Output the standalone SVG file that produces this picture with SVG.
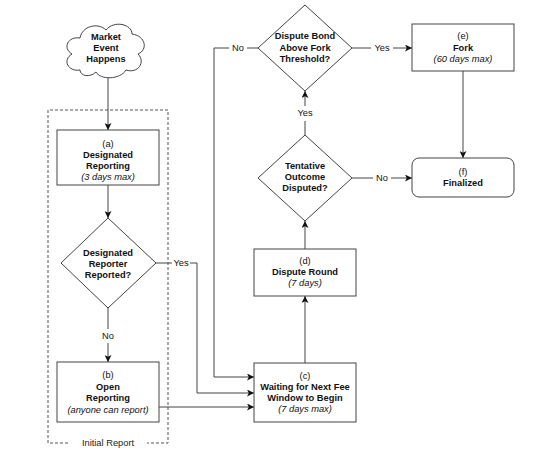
<svg xmlns="http://www.w3.org/2000/svg" width="555" height="467" viewBox="0 0 555 467">
<style>
.shape{fill:#fff;stroke:#444;stroke-width:1}
.ln{fill:none;stroke:#444;stroke-width:1}
.arr{fill:none;stroke:#444;stroke-width:1;marker-end:url(#ah)}
text{font-family:"Liberation Sans",Arial,sans-serif;font-size:9.3px;fill:#111;text-anchor:middle}
.b{font-weight:bold}
.i{font-style:italic}
.lbl{fill:#222}
</style>
<defs>
<marker id="ah" viewBox="0 0 10 10" refX="10" refY="5" markerWidth="7" markerHeight="7" markerUnits="userSpaceOnUse" orient="auto">
<path d="M0,0 L10,5 L0,10 L2.5,5 Z" fill="#111"/>
</marker>
</defs>
<rect width="555" height="467" fill="#fff"/>

<g id="group-initial-report">
<path d="M68,443 L48,443 L48,110 L168,110 L168,443 L147,443" fill="none" stroke="#555" stroke-width="1" stroke-dasharray="3,2"/>
<text x="108" y="446" class="lbl">Initial Report</text>
</g>

<g id="connectors">
<path class="arr" d="M108,78 L108,130"/>
<path class="arr" d="M108,185 L108,218"/>
<path class="ln" d="M108,308 L108,329"/>
<text x="108" y="339">No</text>
<path class="arr" d="M108,343 L108,362"/>
<path class="ln" d="M156,263 L172,263"/>
<text x="181" y="266">Yes</text>
<path class="arr" d="M190,263 L197,263 L197,393 L254,393"/>
<path class="arr" d="M159,407 L254,407"/>
<path class="arr" d="M305,363 L305,296"/>
<path class="arr" d="M305,249 L305,221"/>
<path class="ln" d="M305,135 L305,121"/>
<text x="305" y="116">Yes</text>
<path class="arr" d="M305,106 L305,91"/>
<path class="ln" d="M352,178 L373,178"/>
<text x="382" y="181">No</text>
<path class="arr" d="M391,178 L412,178"/>
<path class="ln" d="M352,48 L371,48"/>
<text x="382" y="51">Yes</text>
<path class="arr" d="M393,48 L412,48"/>
<path class="ln" d="M258,48 L247,48"/>
<text x="238" y="51">No</text>
<path class="arr" d="M229,48 L214,48 L214,377 L254,377"/>
<path class="arr" d="M463,71 L463,158"/>
</g>

<g id="node-market-event">
<path class="shape" d="M80,70 C68,72 62,60 72,54 C62,48 68,36 80,38 C82,26 98,22 106,30 C114,20 132,24 132,34 C146,36 148,50 138,54 C146,62 138,74 126,70 C120,80 100,80 96,72 C90,78 80,76 80,70 Z"/>
<text x="106" y="40" class="b">Market</text>
<text x="106" y="51" class="b">Event</text>
<text x="106" y="62" class="b">Happens</text>
</g>

<g id="node-a">
<rect class="shape" x="57" y="130" width="102" height="55"/>
<text x="108" y="147">(a)</text>
<text x="108" y="158" class="b">Designated</text>
<text x="108" y="169" class="b">Reporting</text>
<text x="108" y="180" class="i">(3 days max)</text>
</g>

<g id="node-reported">
<path class="shape" d="M108,218 L156,263 L108,308 L61,263 Z"/>
<text x="108" y="256" class="b">Designated</text>
<text x="108" y="267" class="b">Reporter</text>
<text x="108" y="278" class="b">Reported?</text>
</g>

<g id="node-b">
<rect class="shape" x="57" y="362" width="102" height="60"/>
<text x="108" y="378">(b)</text>
<text x="108" y="390" class="b">Open</text>
<text x="108" y="401" class="b">Reporting</text>
<text x="108" y="413" class="i">(anyone can report)</text>
</g>

<g id="node-c">
<rect class="shape" x="254" y="363" width="102" height="59"/>
<text x="305" y="379">(c)</text>
<text x="305" y="390" class="b">Waiting for Next Fee</text>
<text x="305" y="401" class="b">Window to Begin</text>
<text x="305" y="412" class="i">(7 days max)</text>
</g>

<g id="node-d">
<rect class="shape" x="254" y="249" width="102" height="47"/>
<text x="305" y="264">(d)</text>
<text x="305" y="275" class="b">Dispute Round</text>
<text x="305" y="286" class="i">(7 days)</text>
</g>

<g id="node-disputed">
<path class="shape" d="M305,135 L352,178 L305,221 L258,178 Z"/>
<text x="305" y="169" class="b">Tentative</text>
<text x="305" y="180" class="b">Outcome</text>
<text x="305" y="191" class="b">Disputed?</text>
</g>

<g id="node-threshold">
<path class="shape" d="M305,5 L352,48 L305,91 L258,48 Z"/>
<text x="305" y="39" class="b">Dispute Bond</text>
<text x="305" y="51" class="b">Above Fork</text>
<text x="305" y="62" class="b">Threshold?</text>
</g>

<g id="node-e">
<rect class="shape" x="412" y="24" width="102" height="47"/>
<text x="463" y="39">(e)</text>
<text x="463" y="51" class="b">Fork</text>
<text x="463" y="62" class="i">(60 days max)</text>
</g>

<g id="node-f">
<rect class="shape" x="412" y="158" width="102" height="39" rx="7" ry="7"/>
<text x="463" y="175">(f)</text>
<text x="463" y="186" class="b">Finalized</text>
</g>
</svg>
